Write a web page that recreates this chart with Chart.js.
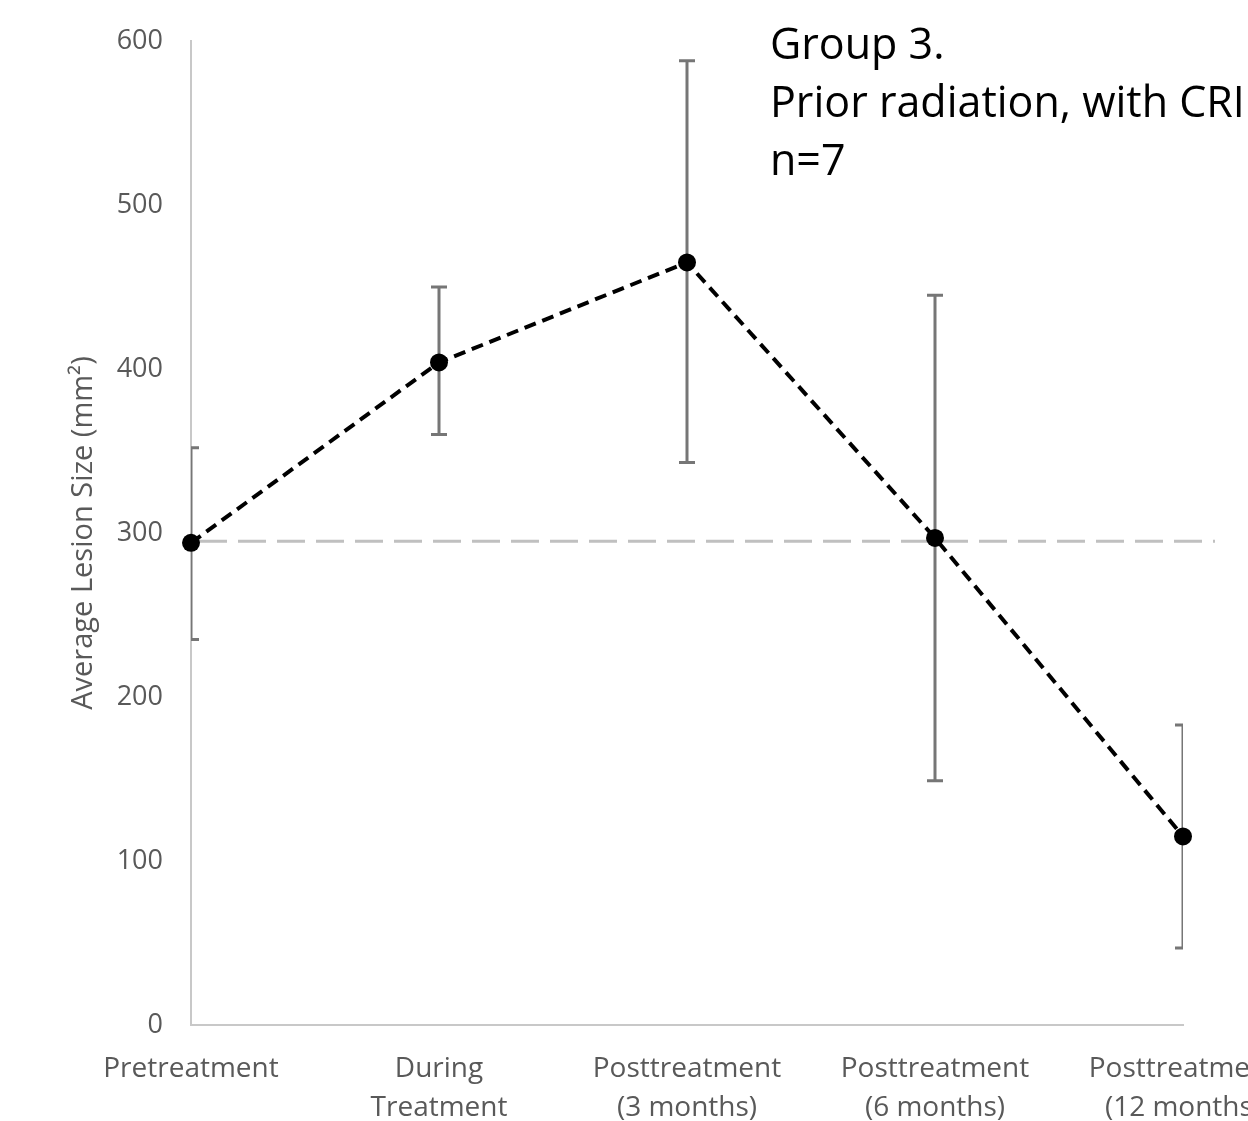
<!DOCTYPE html>
<html>
<head>
<meta charset="utf-8">
<script src="https://cdn.jsdelivr.net/npm/chart.js@4"></script>
<style>
  html, body { margin: 0; padding: 0; background: #fff; overflow: hidden; }
  #wrap { position: relative; width: 1248px; height: 1121px; }
</style>
</head>
<body>
<div id="wrap"><canvas id="lesionChart"></canvas></div>
<script>
const categories = [
  'Pretreatment',
  ['During', 'Treatment'],
  ['Posttreatment', '(3 months)'],
  ['Posttreatment', '(6 months)'],
  ['Posttreatment', '(12 months)']
];
const meanSize = [294, 404, 465, 297, 115];
const upperBar = [352, 450, 588, 445, 183];
const lowerBar = [235, 360, 343, 149, 47];
const baselineValue = [295];
const noteLines = ['Group 3.', 'Prior radiation, with CRI', 'n=7'];
const yTitle = 'Average Lesion Size (mm\u00B2)';

const fontFamily = '"Open Sans", "Noto Sans", sans-serif';

// error bars, clipped to the plot area like the original
const errorBars = {
  id: 'errorBars',
  beforeDatasetsDraw(chart) {
    const { ctx, chartArea, scales } = chart;
    ctx.save();
    ctx.beginPath();
    ctx.rect(chartArea.left, 0, chartArea.right - chartArea.left, chart.height);
    ctx.clip();
    ctx.strokeStyle = '#767676';
    ctx.lineWidth = 3;
    meanSize.forEach((v, i) => {
      const x = scales.x.getPixelForValue(i);
      const yt = scales.y.getPixelForValue(upperBar[i]);
      const yb = scales.y.getPixelForValue(lowerBar[i]);
      ctx.beginPath();
      ctx.moveTo(x, yt); ctx.lineTo(x, yb);
      ctx.moveTo(x - 8, yt); ctx.lineTo(x + 8, yt);
      ctx.moveTo(x - 8, yb); ctx.lineTo(x + 8, yb);
      ctx.stroke();
    });
    ctx.restore();

    // dashed reference line at the pretreatment level
    const yRef = scales.y.getPixelForValue(baselineValue[0]);
    ctx.save();
    ctx.strokeStyle = '#c0c0c0';
    ctx.lineWidth = 3;
    ctx.setLineDash([28, 11]);
    ctx.beginPath();
    ctx.moveTo(chartArea.left + 8, yRef);
    ctx.lineTo(chartArea.right + 32, yRef);
    ctx.stroke();
    ctx.restore();
  },
  afterDraw(chart) {
    const { ctx } = chart;
    ctx.save();
    ctx.fillStyle = '#000';
    ctx.font = '43px ' + fontFamily;
    ctx.textBaseline = 'middle';
    ctx.textAlign = 'left';
    noteLines.forEach((t, i) => ctx.fillText(t, 770, 47 + i * 58));
    ctx.restore();
  }
};

new Chart(document.getElementById('lesionChart'), {
  type: 'line',
  data: {
    labels: categories,
    datasets: [{
      data: meanSize,
      borderColor: '#000',
      borderWidth: 4,
      borderDash: [12, 7],
      backgroundColor: '#000',
      pointRadius: 9,
      pointBackgroundColor: '#000',
      pointBorderWidth: 0,
      tension: 0,
      fill: false
    }]
  },
  options: {
    responsive: true,
    maintainAspectRatio: false,
    animation: false,
    layout: { padding: { top: 41, left: 0, right: 65, bottom: 0 } },
    plugins: { legend: { display: false }, tooltip: { enabled: false } },
    scales: {
      x: {
        offset: false,
        grid: { display: false, drawTicks: false },
        border: { display: true, color: '#c8c8c8', width: 2 },
        ticks: {
          color: '#595959',
          font: { family: fontFamily, size: 28, lineHeight: 1.4 },
          padding: 24,
          maxRotation: 0,
          autoSkip: false
        },
        afterFit(s) { s.height = 96; s.paddingLeft = 0; s.paddingRight = 0; }
      },
      y: {
        min: 0,
        max: 600,
        grid: { display: false, drawTicks: false },
        border: { display: true, color: '#c8c8c8', width: 2 },
        ticks: {
          stepSize: 100,
          color: '#595959',
          font: { family: fontFamily, size: 27 },
          padding: 28
        },
        title: {
          display: true,
          text: yTitle,
          color: '#595959',
          font: { family: fontFamily, size: 29 },
          padding: { top: 66, bottom: 0 }
        },
        afterFit(s) { s.width = 191; s.paddingTop = 0; s.paddingBottom = 0; }
      }
    }
  },
  plugins: [errorBars]
});
</script>
</body>
</html>
